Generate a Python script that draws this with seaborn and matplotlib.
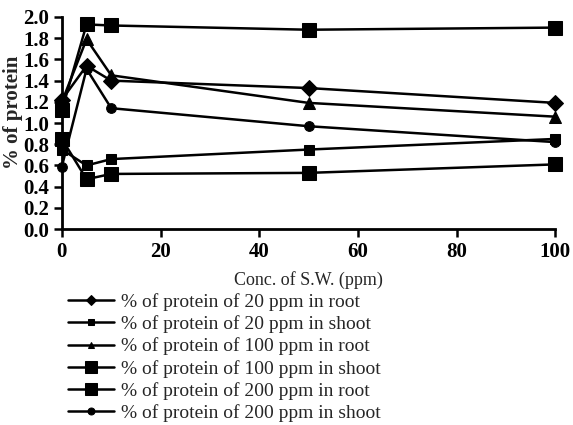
import seaborn as sns
import pandas as pd
import matplotlib.pyplot as plt

conc = [0, 5, 10, 50, 100]
root_20 = [1.22, 1.54, 1.40, 1.33, 1.19]
shoot_20 = [0.75, 0.60, 0.66, 0.75, 0.85]
root_100 = [1.20, 1.79, 1.45, 1.19, 1.06]
shoot_100 = [0.85, 0.47, 0.52, 0.53, 0.61]
root_200 = [1.12, 1.93, 1.92, 1.88, 1.90]
shoot_200 = [0.59, 1.51, 1.14, 0.97, 0.82]

labels = [
    "% of protein of 20 ppm in root",
    "% of protein of 20 ppm in shoot",
    "% of protein of 100 ppm in root",
    "% of protein of 100 ppm in shoot",
    "% of protein of 200 ppm in root",
    "% of protein of 200 ppm in shoot",
]
series = [root_20, shoot_20, root_100, shoot_100, root_200, shoot_200]
markers = ["D", "s", "^", "s", "s", "o"]
msizes = [8, 7, 8, 10, 10, 7]
leg_sizes = [5, 5, 5, 8, 8, 5]

sns.set_style("ticks")
plt.rcParams["font.family"] = ["Liberation Serif", "DejaVu Serif"]

fig = plt.figure(figsize=(5.73, 4.25), dpi=100)
ax = fig.add_axes([0.108, 0.461, 0.861, 0.499])

for lab, vals, m, ms in zip(labels, series, markers, msizes):
    df = pd.DataFrame({"conc": conc, "protein": vals})
    sns.lineplot(data=df, x="conc", y="protein", ax=ax, color="black",
                 marker=m, markeredgecolor="black",
                 linewidth=1.8, label=lab, clip_on=False)
    ax.lines[-1].set_markersize(ms)

ax.set_xlim(0, 100)
ax.set_ylim(0, 2.0)
ax.set_xticks([0, 20, 40, 60, 80, 100])
ax.set_yticks([i * 0.2 for i in range(11)])
ax.set_yticklabels([f"{i * 0.2:.1f}" for i in range(11)])
ax.tick_params(axis="both", labelsize=15, width=1.8, length=6, color="black",
               labelcolor="black", pad=3)
for t in ax.get_xticklabels() + ax.get_yticklabels():
    t.set_fontweight("bold")
sns.despine(ax=ax)
for s in ["left", "bottom"]:
    ax.spines[s].set_linewidth(2)
    ax.spines[s].set_color("black")

ax.set_xlabel("Conc. of S.W. (ppm)", fontsize=13)
ax.xaxis.set_label_coords(0.5, -0.2)
ax.set_ylabel("% of protein", fontsize=15, fontweight="bold")
ax.yaxis.set_label_coords(-0.078, 0.55)

handles, labs = ax.get_legend_handles_labels()
leg = ax.legend(handles, labs, loc="upper left", bbox_to_anchor=(0.118, 0.31),
                bbox_transform=fig.transFigure, frameon=False, fontsize=14,
                handlelength=2.4, handletextpad=0.35, labelspacing=0.22,
                borderaxespad=0, borderpad=0)
for h, s in zip(leg.legend_handles, leg_sizes):
    h.set_markersize(s)

plt.savefig("out.png", dpi=100)
